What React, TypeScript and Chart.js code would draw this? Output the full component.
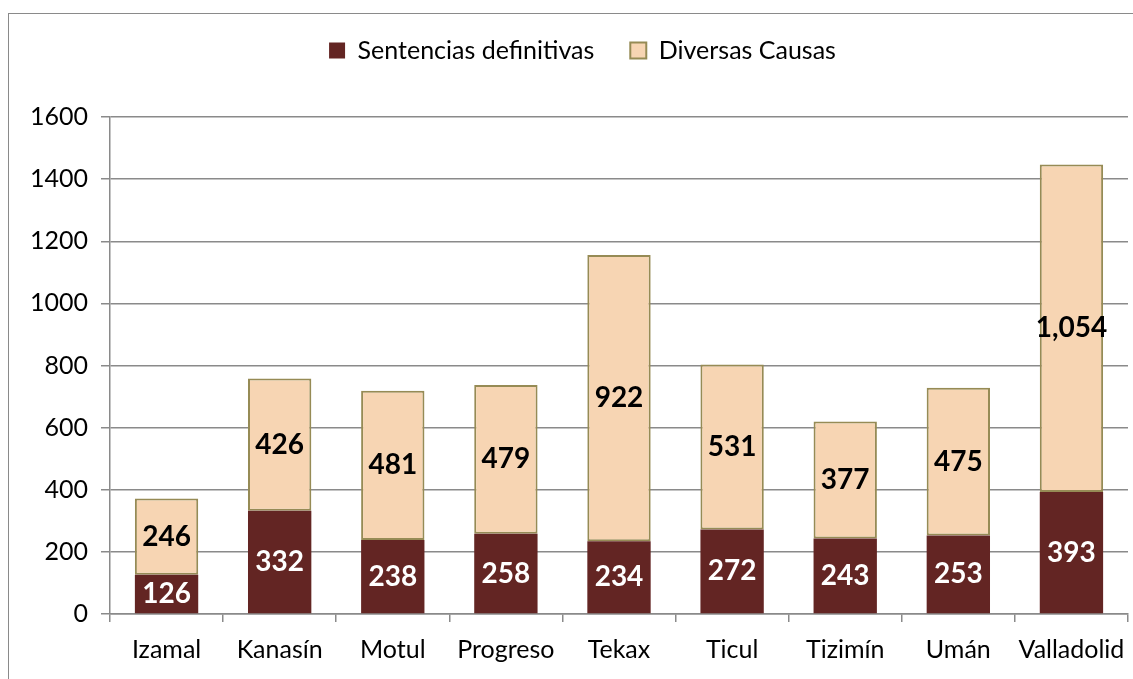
import React, { useEffect, useRef } from "react";
import { Chart, registerables } from "chart.js";

Chart.register(...registerables);

const categories = ["Izamal", "Kanasín", "Motul", "Progreso", "Tekax", "Ticul", "Tizimín", "Umán", "Valladolid"];
const sentencias = [126, 332, 238, 258, 234, 272, 243, 253, 393];
const diversas = [246, 426, 481, 479, 922, 531, 377, 475, 1054];
const yTickValues = [0, 200, 400, 600, 800, 1000, 1200, 1400, 1600];
const seriesNames = ["Sentencias definitivas", "Diversas Causas"];

const FONT = "Lato, Carlito, 'Noto Sans', sans-serif";
const DARK = "#632523";
const LIGHT = "#F7D5B3";
const LIGHT_BORDER = "#968B55";
const GRID = "#8a8a8a";

const valueLabels = {
  id: "valueLabels",
  afterDatasetsDraw(chart: any) {
    const ctx = chart.ctx;
    ctx.save();
    ctx.font = `bold 28px ${FONT}`;
    ctx.textAlign = "center";
    ctx.textBaseline = "middle";
    chart.data.datasets.forEach((ds: any, di: number) => {
      const meta = chart.getDatasetMeta(di);
      meta.data.forEach((el: any, i: number) => {
        const v = ds.data[i];
        const y = (el.y + el.base) / 2;
        ctx.fillStyle = di === 0 ? "#FFFFFF" : "#000000";
        ctx.fillText(Number(v).toLocaleString("en-US"), el.x, y);
      });
    });
    ctx.restore();
  },
};

export default function App() {
  const ref = useRef<HTMLCanvasElement | null>(null);
  useEffect(() => {
    if (!ref.current) return;
    const chart = new Chart(ref.current, {
      type: "bar",
      data: {
        labels: categories,
        datasets: [
          {
            label: seriesNames[0],
            data: sentencias,
            backgroundColor: DARK,
            borderColor: DARK,
            borderWidth: 0,
            categoryPercentage: 1,
            barPercentage: 0.56,
          },
          {
            label: seriesNames[1],
            data: diversas,
            backgroundColor: LIGHT,
            borderColor: LIGHT_BORDER,
            borderWidth: 2,
            borderSkipped: false,
            categoryPercentage: 1,
            barPercentage: 0.56,
          },
        ],
      },
      options: {
        responsive: false,
        animation: false,
        devicePixelRatio: 1,
        layout: { padding: { top: 0, right: 0, left: 0, bottom: 0 } },
        plugins: {
          legend: {
            position: "top",
            labels: {
              font: { family: FONT, size: 25 },
              color: "#000",
              boxWidth: 16,
              boxHeight: 16,
              padding: 36,
            },
          },
          subtitle: {
            display: true,
            text: " ",
            position: "top",
            weight: 500,
            font: { size: 10, lineHeight: 1 },
            padding: { top: 0, bottom: 34 },
          } as any,
          tooltip: { enabled: false },
        },
        scales: {
          x: {
            stacked: true,
            grid: {
              display: true,
              drawOnChartArea: false,
              drawTicks: true,
              tickLength: 8,
              color: GRID,
              lineWidth: 1.5,
            },
            border: { display: true, color: GRID, width: 1.5 },
            ticks: {
              font: { family: FONT, size: 25 },
              color: "#000",
              padding: 13,
              maxRotation: 0,
            },
            afterFit(scale: any) {
              scale.height = 65;
              scale.paddingLeft = 0;
              scale.paddingRight = 0;
            },
          },
          y: {
            stacked: true,
            min: 0,
            max: 1600,
            grid: {
              color: GRID,
              lineWidth: 1.5,
              tickLength: 9,
              drawTicks: true,
            },
            border: { display: true, color: GRID, width: 1.5 },
            ticks: {
              font: { family: FONT, size: 25 },
              color: "#000",
              padding: 13,
              callback: (v: any) => String(v),
            },
            afterBuildTicks(scale: any) {
              scale.ticks = yTickValues.map((v) => ({ value: v }));
            },
            afterFit(scale: any) {
              scale.width = 101;
            },
          },
          spacer: {
            type: "linear",
            position: "right",
            display: true,
            grid: { display: false, drawTicks: false },
            border: { display: false },
            ticks: { display: false },
            afterFit(scale: any) {
              scale.width = 28;
            },
          },
        },
      },
      plugins: [valueLabels],
    });
    return () => chart.destroy();
  }, []);

  return (
    <div>
      <div
        style={{
          position: "absolute",
          left: 8,
          top: 13,
          width: 1125,
          height: 666,
          borderLeft: "1px solid #8a8a8a",
          borderTop: "1px solid #8a8a8a",
          boxSizing: "border-box",
        }}
      />
      <div
        style={{
          position: "absolute",
          left: 9,
          top: 2,
          width: 1124,
          height: 677,
          overflow: "hidden",
        }}
      >
        <canvas
          ref={ref}
          width={1147}
          height={677}
          style={{ display: "block", width: 1147, height: 677 }}
        />
      </div>
    </div>
  );
}
